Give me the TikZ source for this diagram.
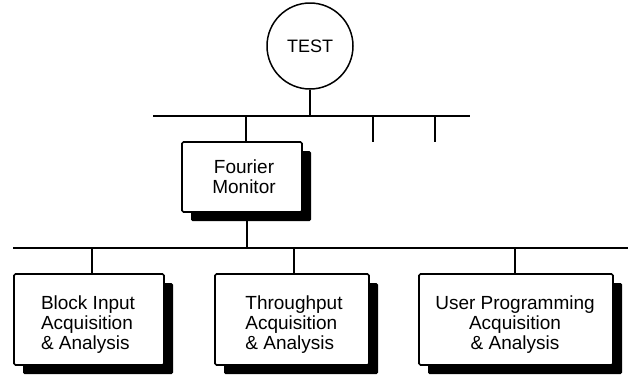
\documentclass[tikz,border=0pt]{standalone}
\usepackage{fontspec}
\setmainfont{Liberation Sans}
\usetikzlibrary{shadows}
\begin{document}
\begin{tikzpicture}[x=1pt,y=-1pt,
  lbl/.style={font=\fontsize{19}{20}\selectfont, inner sep=0pt},
  card/.style={draw=black, line width=1.6pt, fill=white, rounded corners=1.5pt,
    drop shadow={shadow xshift=9pt, shadow yshift=-9pt, fill=black, opacity=1}},
  wire/.style={line width=1.8pt}]
\useasboundingbox (0,0) rectangle (628,376);

% root
\node[draw, circle, line width=1.5pt, minimum size=86pt, lbl, font=\fontsize{18}{20}\selectfont] (test) at (310,46) {TEST};

% second level
\node[card, minimum width=120pt, minimum height=70pt] (fm) at (242,177) {};
\node[lbl, align=center] (fmt) at (244,177) {Fourier\\Monitor};

% third level
\node[card, minimum width=150pt, minimum height=91pt] (b1) at (89,319.5) {};
\node[lbl, align=left] (t1) at (88,325) {Block Input\\Acquisition\\\& Analysis};
\node[card, minimum width=154pt, minimum height=91pt] (b2) at (292,319.5) {};
\node[lbl, align=left] (t2) at (294,325) {Throughput\\Acquisition\\\& Analysis};
\node[card, minimum width=194pt, minimum height=91pt] (b3) at (516,319.5) {};
\node[lbl, align=center] (t3) at (515,325) {User Programming\\Acquisition\\\& Analysis};

% upper bus
\coordinate (ubL) at (153,116);
\coordinate (ubR) at (470,116);
\coordinate (uf) at (246,116);
\coordinate (u2) at (373,116);
\coordinate (u2e) at (373,142);
\coordinate (u3) at (435,116);
\coordinate (u3e) at (435,142);
\draw[wire] (ubL) -- (ubR);
\draw[wire] (test) -- (test |- ubL);
\draw[wire] (uf) -- (uf |- fm.north);
\draw[wire] (u2) -- (u2e);
\draw[wire] (u3) -- (u3e);

% lower bus
\coordinate (lbL) at (13,248);
\coordinate (lbR) at (628,248);
\coordinate (lf) at (247,248);
\coordinate (l1) at (92,248);
\coordinate (l2) at (294,248);
\coordinate (l3) at (515,248);
\draw[wire] (lbL) -- (lbR);
\draw[wire] (lf |- fm.south) -- (lf);
\draw[wire] (l1) -- (l1 |- b1.north);
\draw[wire] (l2) -- (l2 |- b2.north);
\draw[wire] (l3) -- (l3 |- b3.north);
\end{tikzpicture}
\end{document}
